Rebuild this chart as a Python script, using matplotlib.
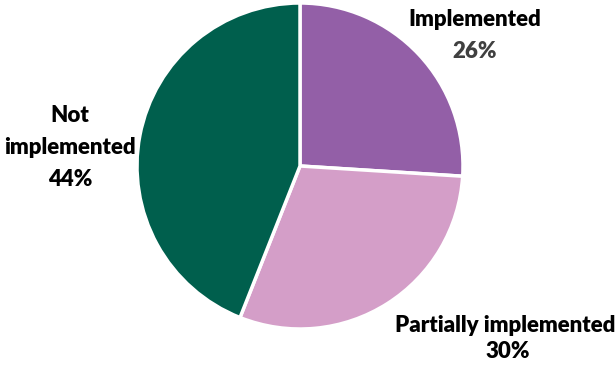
import matplotlib.pyplot as plt

categories = ["Implemented", "Partially implemented", "Not implemented"]
shares = [26, 30, 44]
colors = ["#935FA7", "#D49EC8", "#005F4D"]

W, H = 616, 367
cx, cy, r = 300, 166, 163

fig = plt.figure(figsize=(W / 100, H / 100), dpi=100)
ax = fig.add_axes([(cx - r) / W, (H - cy - r) / H, 2 * r / W, 2 * r / H])
ax.pie(shares, colors=colors, startangle=90, counterclock=False,
       wedgeprops=dict(edgecolor="white", linewidth=2.5), radius=1.0)
ax.set_xlim(-1, 1)
ax.set_ylim(-1, 1)
ax.set_aspect("equal")
ax.axis("off")


def px(x, y):
    return (x - cx) / r, (cy - y) / r


font = dict(family="Lato", fontweight="heavy", fontsize=16, ha="center", va="center")
ax.text(*px(475, 20), "Implemented", color="black", clip_on=False, **font)
ax.text(*px(475, 52), f"{shares[0]}%", color="#404040", clip_on=False, **font)
ax.text(*px(505, 325), "Partially implemented", color="black", clip_on=False, **font)
ax.text(*px(508, 351), f"{shares[1]}%", color="black", clip_on=False, **font)
ax.text(*px(70, 115), "Not", color="black", clip_on=False, **font)
ax.text(*px(70, 148), "implemented", color="black", clip_on=False, **font)
ax.text(*px(70, 180), f"{shares[2]}%", color="black", clip_on=False, **font)

fig.savefig("out.png", dpi=100)
